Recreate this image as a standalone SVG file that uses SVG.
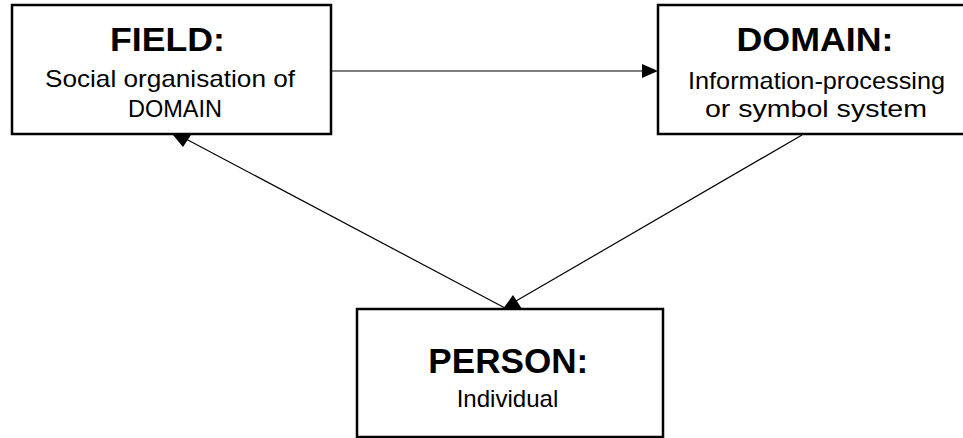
<svg xmlns="http://www.w3.org/2000/svg" width="963" height="438" viewBox="0 0 963 438">
  <style>
    .box { fill: #ffffff; stroke: #000000; stroke-width: 2.5; }
    .title { font-family: "Liberation Sans", Arial, sans-serif; font-weight: bold; fill: #000000; text-anchor: middle; }
    .sub { font-family: "Liberation Sans", Arial, sans-serif; fill: #000000; text-anchor: middle; }
    .link { stroke: #000000; stroke-width: 1.2; fill: none; }
    .head { fill: #000000; stroke: none; }
  </style>
  <rect width="963" height="438" fill="#ffffff"/>

  <g id="connectors">
    <!-- FIELD to DOMAIN -->
    <line class="link" x1="331" y1="71" x2="645" y2="71"/>
    <polygon class="head" points="642,64 658,71 642,78"/>
    <!-- PERSON to FIELD -->
    <line class="link" x1="505" y1="308" x2="186" y2="139"/>
    <polygon class="head" points="173,135 191,135 183,147"/>
    <!-- DOMAIN to PERSON -->
    <line class="link" x1="802" y1="135" x2="516" y2="301"/>
    <polygon class="head" points="503,309 522,309 513,295"/>
  </g>

  <g id="field">
    <rect class="box" x="12" y="5" width="319" height="129"/>
    <text class="title" x="167.5" y="51" font-size="33" textLength="115" lengthAdjust="spacingAndGlyphs">FIELD:</text>
    <text class="sub" x="170" y="87" font-size="24" textLength="250" lengthAdjust="spacingAndGlyphs">Social organisation  of</text>
    <text class="sub" x="175" y="117" font-size="24" textLength="94" lengthAdjust="spacingAndGlyphs">DOMAIN</text>
  </g>

  <g id="domain">
    <rect class="box" x="658" y="5" width="312" height="129"/>
    <text class="title" x="815" y="51" font-size="33" textLength="157" lengthAdjust="spacingAndGlyphs">DOMAIN:</text>
    <text class="sub" x="816.5" y="89" font-size="24" textLength="257" lengthAdjust="spacingAndGlyphs">Information-processing</text>
    <text class="sub" x="816" y="117" font-size="24" textLength="222" lengthAdjust="spacingAndGlyphs">or symbol system</text>
  </g>

  <g id="person">
    <rect class="box" x="357" y="309" width="306" height="128"/>
    <text class="title" x="508.3" y="373" font-size="35" textLength="160" lengthAdjust="spacingAndGlyphs">PERSON:</text>
    <text class="sub" x="507.5" y="407" font-size="24" textLength="101.7" lengthAdjust="spacingAndGlyphs">Individual</text>
  </g>
</svg>
